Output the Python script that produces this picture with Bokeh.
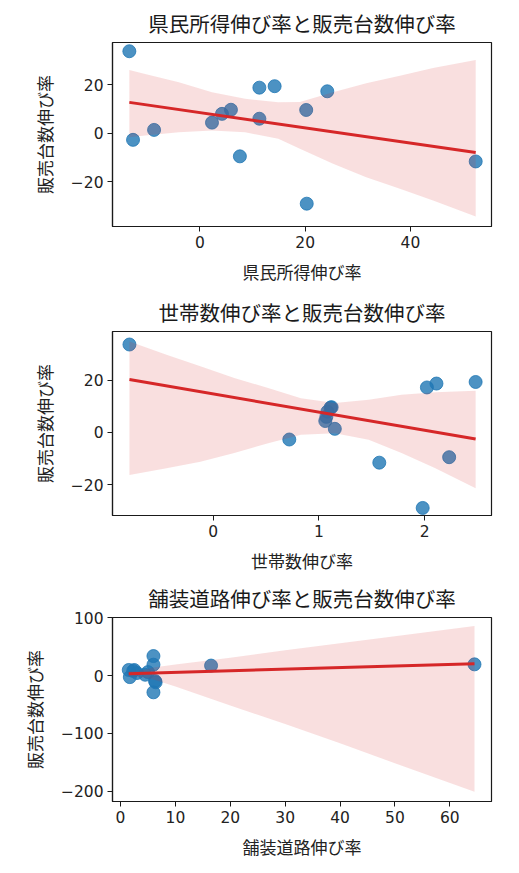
import numpy as np
from bokeh.plotting import figure
from bokeh.layouts import column
from bokeh.models import FixedTicker, Range1d
from bokeh.embed import file_html
from bokeh.resources import INLINE

# ---- data ----
sales = [33.8, -2.7, 1.4, 4.4, 8.0, 9.7, -9.5, 18.8, 6.0, 19.4, 9.6, -29.0, 17.3, -11.6]
income = [-13.4, -12.7, -8.7, 2.3, 4.2, 5.9, 7.6, 11.3, 11.3, 14.2, 20.2, 20.3, 24.2, 52.4]
households = [-0.79, 0.72, 1.15, 1.06, 1.08, 1.12, 2.23, 2.11, 1.07, 2.48, 1.11, 1.98, 2.02, 1.57]
roads = [6.0, 1.7, 4.5, 3.0, 2.3, 1.5, 6.3, 6.0, 5.0, 64.5, 2.5, 6.0, 16.5, 6.4]

# confidence band (95%)
band1_x = [-13.4, -10.4, -4.0, 2.3, 8.6, 14.9, 19.0, 25.3, 31.6, 38.0, 44.3, 52.4]
band1_hi = [26.1, 24.4, 21.0, 16.9, 14.2, 12.8, 12.9, 16.9, 20.6, 23.7, 26.9, 30.2]
band1_lo = [-1.6, -0.9, 0.4, 1.1, 0.4, -2.3, -6.4, -12.6, -18.1, -22.9, -27.7, -34.3]

band2_x = [-0.79, -0.44, -0.12, 0.20, 0.52, 0.83, 1.15, 1.47, 1.78, 2.10, 2.48]
band2_hi = [35.0, 29.9, 25.4, 20.9, 17.1, 13.2, 11.3, 12.6, 14.5, 15.5, 16.0]
band2_lo = [-16.3, -13.7, -11.2, -7.9, -4.1, -0.9, -0.3, -2.8, -7.9, -13.7, -21.4]

band3_x = [1.5, 4.0, 6.0, 10, 20, 30, 40, 50, 64.5]
band3_hi = [7, 9, 14, 19, 31, 44, 56, 68, 86]
band3_lo = [-1, -3, -7, -19, -52, -84, -117, -152, -201]

titles = ["県民所得伸び率と販売台数伸び率", "世帯数伸び率と販売台数伸び率", "舗装道路伸び率と販売台数伸び率"]
xlabels = ["県民所得伸び率", "世帯数伸び率", "舗装道路伸び率"]
ylabel = "販売台数伸び率"

x_ticks1 = [0, 20, 40]
y_ticks1 = [-20, 0, 20]
x_ticks2 = [0, 1, 2]
y_ticks2 = [-20, 0, 20]
x_ticks3 = [0, 10, 20, 30, 40, 50, 60]
y_ticks3 = [-200, -100, 0, 100]

CJK = "Noto Sans CJK JP"
RED = "#d62728"
BLUE = "#1f77b4"


def fmt(t):
    s = str(t)
    return s.replace("-", "\u2212")


def make(title, xl, xs, bx, blo, bhi, xr, yr, xt, yt, bottom):
    p = figure(frame_width=379, frame_height=184,
               x_range=Range1d(*xr), y_range=Range1d(*yr),
               output_backend="svg", toolbar_location=None,
               min_border_left=112, min_border_right=8,
               min_border_top=38, min_border_bottom=bottom,
               title=title, background_fill_color="white",
               border_fill_color="white")
    p.title.text_font = CJK
    p.title.text_font_size = "20.5px"
    p.title.text_font_style = "normal"
    p.title.align = "center"
    p.title.text_color = "#1a1a1a"
    p.grid.visible = False
    p.outline_line_color = "#1a1a1a"
    p.outline_line_width = 1.2

    p.xaxis.ticker = FixedTicker(ticks=xt)
    p.yaxis.ticker = FixedTicker(ticks=yt)
    p.xaxis.major_label_overrides = {t: fmt(t) for t in xt}
    p.yaxis.major_label_overrides = {t: fmt(t) for t in yt}
    for ax in (p.xaxis, p.yaxis):
        ax.axis_line_color = "#1a1a1a"
        ax.axis_line_width = 1.2
        ax.major_tick_line_color = "#1a1a1a"
        ax.major_tick_out = 5
        ax.major_tick_in = 0
        ax.minor_tick_line_color = None
        ax.major_label_text_font = "DejaVu Sans"
        ax.major_label_text_font_size = "15.5px"
        ax.major_label_text_color = "#222222"
        ax.major_label_standoff = 4
        ax.axis_label_text_font = CJK
        ax.axis_label_text_font_size = "17px"
        ax.axis_label_text_font_style = "normal"
        ax.axis_label_text_color = "#222222"
        ax.axis_label_standoff = 8
    p.yaxis.axis_label_standoff = 11
    p.xaxis.axis_label = xl
    p.yaxis.axis_label = ylabel

    p.scatter(xs, sales, size=13, fill_color=BLUE, line_color=BLUE, alpha=0.8)
    p.varea(x=bx, y1=blo, y2=bhi, fill_color=RED, fill_alpha=0.15)
    slope, inter = np.polyfit(np.array(xs), np.array(sales), 1)
    gx = np.array([min(xs), max(xs)])
    p.line(gx, inter + slope * gx, line_color=RED, line_width=3)
    return p


p1 = make(titles[0], xlabels[0], income, band1_x, band1_lo, band1_hi,
          (-16.6, 55.4), (-38.4, 37.4), x_ticks1, y_ticks1, 63)
p2 = make(titles[1], xlabels[1], households, band2_x, band2_lo, band2_hi,
          (-0.95, 2.63), (-31.9, 38.8), x_ticks2, y_ticks2, 60)
p3 = make(titles[2], xlabels[2], roads, band3_x, band3_lo, band3_hi,
          (-1.46, 67.6), (-218, 100.5), x_ticks3, y_ticks3, 56)

layout = column(p1, p2, p3)
open("out.html", "w").write(file_html(layout, INLINE))
